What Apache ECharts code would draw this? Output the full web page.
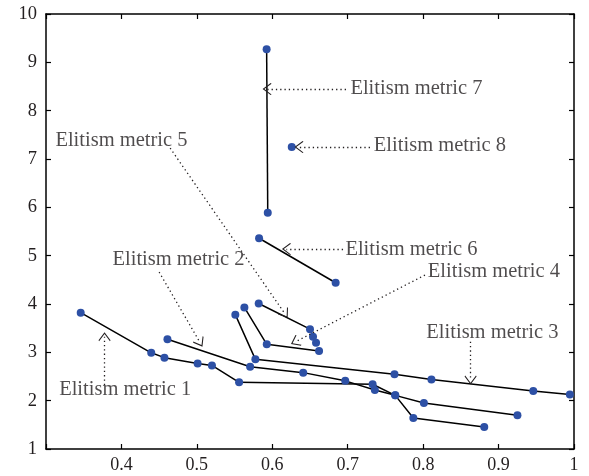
<!DOCTYPE html>
<html>
<head>
<meta charset="utf-8">
<script src="https://cdn.jsdelivr.net/npm/echarts@6/dist/echarts.min.js"></script>
<style>
  html, body { margin: 0; padding: 0; background: #fff; }
  #chart { width: 589px; height: 476px; }
</style>
</head>
<body>
<div id="chart"></div>
<script>
let chart = echarts.init(document.getElementById('chart'));

// ticks
const xTicks = [0.3, 0.4, 0.5, 0.6, 0.7, 0.8, 0.9, 1];
const yTicks = [1, 2, 3, 4, 5, 6, 7, 8, 9, 10];

// metric curves (x, y)
const m1X = [0.346, 0.4395, 0.457, 0.501, 0.52, 0.556, 0.733, 0.763, 0.787, 0.881];
const m1Y = [3.82, 2.99, 2.89, 2.77, 2.73, 2.38, 2.34, 2.11, 1.64, 1.455];
const m2X = [0.461, 0.5706, 0.641, 0.6967, 0.736, 0.763, 0.801, 0.925];
const m2Y = [3.27, 2.70, 2.58, 2.41, 2.22, 2.11, 1.95, 1.70];
const m3X = [0.551, 0.5776, 0.762, 0.811, 0.946, 0.9945];
const m3Y = [3.78, 2.855, 2.545, 2.44, 2.20, 2.13];
const m4X = [0.563, 0.5927, 0.662];
const m4Y = [3.93, 3.165, 3.03];
const m5X = [0.582, 0.650, 0.654, 0.658];
const m5Y = [4.01, 3.48, 3.32, 3.20];
const m6X = [0.5825, 0.684];
const m6Y = [5.36, 4.44];
const m7X = [0.5925, 0.594];
const m7Y = [9.27, 5.89];
const m8X = [0.6258];
const m8Y = [7.25];

// annotations: text, label centre, dotted arrow from -> to
const annText = ['Elitism metric 1', 'Elitism metric 2', 'Elitism metric 3', 'Elitism metric 4',
                 'Elitism metric 5', 'Elitism metric 6', 'Elitism metric 7', 'Elitism metric 8'];
const annLabelX = [0.405, 0.4757, 0.8918, 0.8938, 0.4, 0.7845, 0.7911, 0.8222];
const annLabelY = [2.22, 4.909, 3.399, 4.667, 7.39, 5.116, 8.466, 7.287];
const annFromX = [0.3776, 0.45, 0.8629, 0.8024, 0.4646, 0.6938, 0.6977, 0.7295];
const annFromY = [2.324, 4.661, 3.219, 4.599, 7.225, 5.136, 8.446, 7.246];
const annToX = [0.3776, 0.5044, 0.8629, 0.6301, 0.617, 0.6188, 0.5931, 0.6354];
const annToY = [3.323, 3.198, 2.427, 3.213, 3.792, 5.136, 8.446, 7.246];

const metrics = [[m1X, m1Y], [m2X, m2Y], [m3X, m3Y], [m4X, m4Y],
                 [m5X, m5Y], [m6X, m6Y], [m7X, m7Y], [m8X, m8Y]];

const textColor = '#231f20';
const fontFamily = '"Liberation Serif", "DejaVu Serif", serif';
// open chevron, tip at the top
const chevron = 'path://M0,0 L10,9 L9,10 L0,2 L-9,10 L-10,9 Z';

let series = metrics.map((m, i) => ({
    name: annText[i],
    type: 'line',
    data: m[0].map((x, j) => [x, m[1][j]]),
    symbol: 'circle',
    symbolSize: 8,
    itemStyle: {color: '#2d50a5'},
    lineStyle: {color: '#000', width: 1.5},
    z: 3
}));

// dotted arrows
series.push({
    type: 'line',
    data: [],
    markLine: {
        silent: true,
        symbol: ['none', chevron],
        symbolSize: [12, 9],
        label: {show: false},
        lineStyle: {color: textColor, type: [1.3, 3], width: 1.3},
        data: annText.map((t, i) => [
            {coord: [annFromX[i], annFromY[i]]},
            {coord: [annToX[i], annToY[i]]}
        ])
    }
});

// annotation text
series.push({
    type: 'scatter',
    symbolSize: 0,
    silent: true,
    data: annText.map((t, i) => ({name: t, value: [annLabelX[i], annLabelY[i]]})),
    label: {
        show: true,
        position: 'inside',
        formatter: '{b}',
        color: textColor,
        fontFamily: fontFamily,
        fontSize: 20.5,
        align: 'center',
        verticalAlign: 'middle'
    },
    z: 5
});

const axisBase = {
    axisLine: {show: true, onZero: false, lineStyle: {color: '#000', width: 1.5}},
    axisTick: {show: true, inside: true, length: 5, lineStyle: {color: '#000', width: 1.2}},
    splitLine: {show: false}
};

let option = {
    animation: false,
    backgroundColor: '#fff',
    grid: {left: 46, right: 15, top: 14, bottom: 27},
    xAxis: [
        Object.assign({}, axisBase, {
            type: 'value', min: 0.3, max: 1, interval: 0.1, position: 'bottom',
            axisLabel: {
                color: textColor, fontFamily: fontFamily, fontSize: 18, margin: 7,
                formatter: v => (v < 0.35 ? '' : String(Math.round(v * 10) / 10))
            }
        }),
        Object.assign({}, axisBase, {
            type: 'value', min: 0.3, max: 1, interval: 0.1, position: 'top',
            axisLabel: {show: false}
        })
    ],
    yAxis: [
        Object.assign({}, axisBase, {
            type: 'value', min: 1, max: 10, interval: 1, position: 'left',
            axisLabel: {color: textColor, fontFamily: fontFamily, fontSize: 18.5, margin: 9}
        }),
        Object.assign({}, axisBase, {
            type: 'value', min: 1, max: 10, interval: 1, position: 'right',
            axisLabel: {show: false}
        })
    ],
    series: series
};

chart.setOption(option);
</script>
</body>
</html>
